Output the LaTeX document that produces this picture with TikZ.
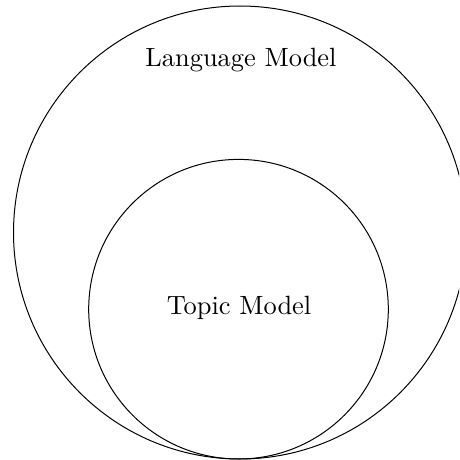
\documentclass[tikz,border=0pt]{standalone}
\begin{document}
\begin{tikzpicture}[x=1pt,y=-1pt,
  ring/.style={draw=black,line width=1pt},
  caption/.style={inner sep=0pt}]
\useasboundingbox (0,0) rectangle (459,460);
\clip (0,0) rectangle (459,460);
% outer set: language model
\draw[ring] (240,232.5) circle[radius=226.5];
% inner set: topic model, touching the outer circle at the bottom
\draw[ring] (238.5,309.2) circle[radius=149.8];
\node[caption] (lm) at (241,60) {\scalebox{2.64}{Language Model}};
\node[caption] (tm) at (239,308) {\scalebox{2.64}{Topic Model}};
\end{tikzpicture}
\end{document}
